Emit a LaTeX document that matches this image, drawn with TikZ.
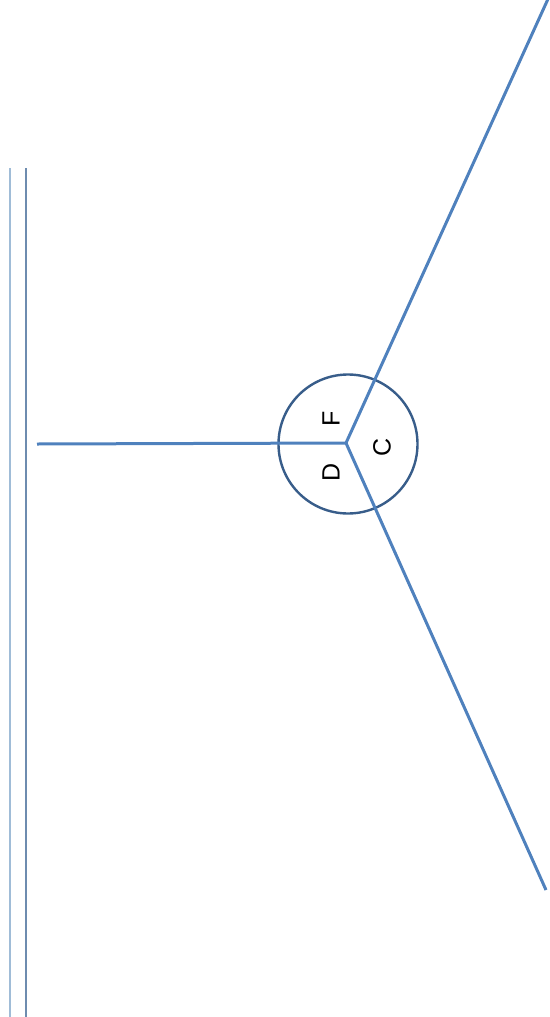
\documentclass[tikz,border=0pt]{standalone}
\usepackage{fontspec}
\setmainfont{Liberation Sans}
\usetikzlibrary{positioning,calc}

\definecolor{spoke}{RGB}{79,129,189}
\definecolor{rim}{RGB}{56,93,138}
\definecolor{railA}{RGB}{160,188,215}
\definecolor{railB}{RGB}{110,140,175}

\begin{document}
\begin{tikzpicture}[x=1pt,y=-1pt,
			spokeline/.style={draw=spoke, line width=3pt},
			hubcircle/.style={circle, draw=rim, line width=2.4pt, minimum size=139pt, inner sep=0pt},
			letter/.style={font=\fontsize{25}{25}\selectfont, rotate=90, inner sep=0pt},
			rail/.style={line width=1.4pt},
		]
		\useasboundingbox (0,0) rectangle (549,1017);

		\node[hubcircle] (hub) at (348,444) {};
		\coordinate (centre) at (346,443);

		% spoke ends
		\coordinate (westend)  at (37,444);
		\coordinate (northend) at (548,-1);
		\coordinate (southend) at (546,890);

		\draw[spokeline] (centre) -- (westend);
		\draw[spokeline] (centre) -- (northend);
		\draw[spokeline] (centre) -- (southend);

		\node[letter] (labF) at (331,419) {F};
		\node[letter] (labC) at (382,447) {C};
		\node[letter] (labD) at (331,472) {D};

		% double rail on the left
		\coordinate (railAtop) at (10,168);
		\coordinate (railAbot) at (10,1017);
		\coordinate (railBtop) at (26,168);
		\coordinate (railBbot) at (26,1017);
		\draw[rail, draw=railA] (railAtop) -- (railAbot);
		\draw[rail, draw=railB] (railBtop) -- (railBbot);

	\end{tikzpicture}
\end{document}
